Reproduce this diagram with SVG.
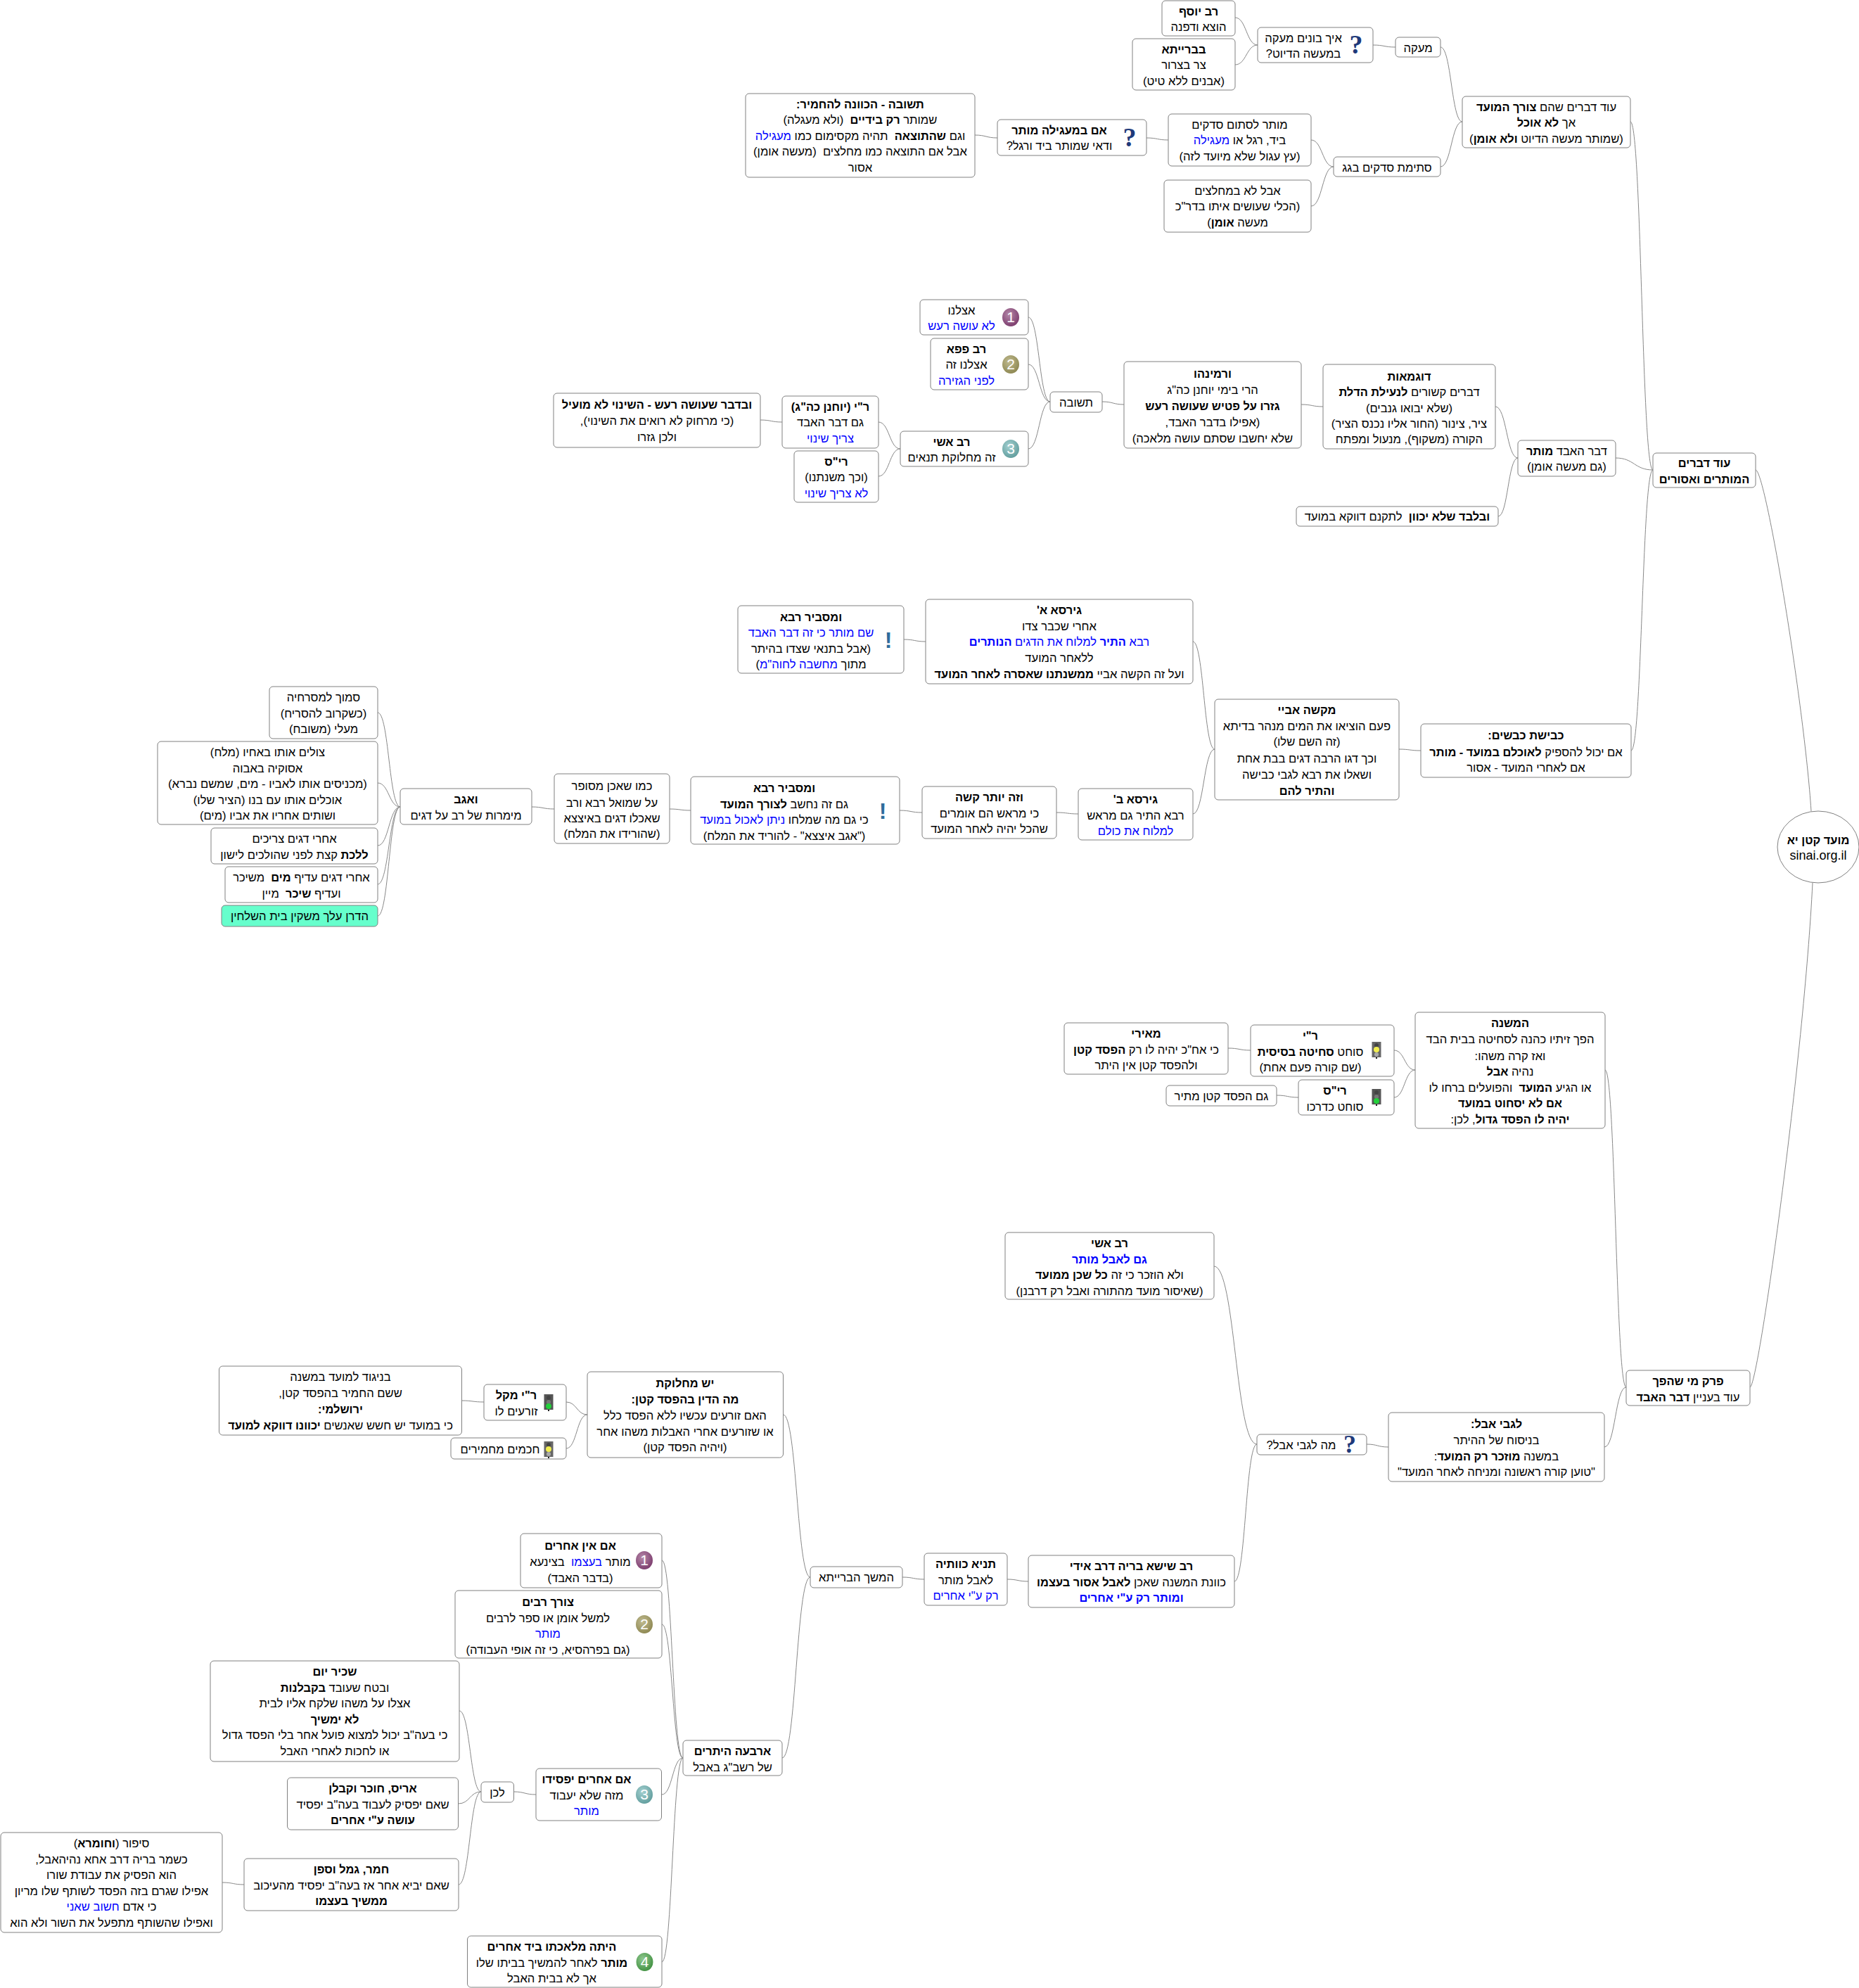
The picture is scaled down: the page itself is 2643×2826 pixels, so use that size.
<svg xmlns="http://www.w3.org/2000/svg" width="2643" height="2826" viewBox="0 0 2643 2826">
<style>
text{font-family:"Liberation Sans",Arial,sans-serif;font-size:16.6px;direction:rtl;text-anchor:middle;fill:#000}
.node rect,.node ellipse{fill:#fff;stroke:#808080;stroke-width:1}
.b{font-weight:bold;font-size:16.4px}
.u{fill:#0000ff}
#edges path{fill:none;stroke:#888;stroke-width:1}
text.q{font-family:"Liberation Serif",serif;font-weight:bold;font-size:38px;fill:#1f3a7a;direction:ltr}
text.x{font-family:"Liberation Sans",sans-serif;font-weight:bold;font-size:32px;fill:#2f6c9c;direction:ltr}
text.d{font-size:21px;fill:#fff;direction:ltr}
</style>
<defs>
<radialGradient id="b1" cx=".4" cy=".35" r=".7"><stop offset="0" stop-color="#b588a8"/><stop offset="1" stop-color="#7a3a6c"/></radialGradient>
<radialGradient id="b2" cx=".4" cy=".35" r=".7"><stop offset="0" stop-color="#c0bb90"/><stop offset="1" stop-color="#8c8650"/></radialGradient>
<radialGradient id="b3" cx=".4" cy=".35" r=".7"><stop offset="0" stop-color="#a4d0d0"/><stop offset="1" stop-color="#5f9c9c"/></radialGradient>
<radialGradient id="b4" cx=".4" cy=".35" r=".7"><stop offset="0" stop-color="#90c890"/><stop offset="1" stop-color="#3f8f3f"/></radialGradient>
<g id="tly"><rect x="-6.5" y="-12" width="13" height="22" fill="#666" stroke="none"/><rect x="-1" y="10" width="2" height="2" fill="#222" stroke="none"/><circle cy="-7" r="3" fill="#444"/><circle cy="-1" r="4" fill="#f2ee50"/><circle cy="6" r="3" fill="#aaa"/></g>
<g id="tlg"><rect x="-6.5" y="-12" width="13" height="22" fill="#555" stroke="none"/><rect x="-1" y="10" width="2" height="2" fill="#222" stroke="none"/><circle cy="-7" r="3" fill="#444"/><circle cy="-1" r="3" fill="#777"/><circle cy="5" r="4" fill="#22d03a"/></g>
</defs>
<g id="edges">
<path d="M2496 668C2510 668 2565 1000 2575 1153"/>
<path d="M2488 1972C2500 1972 2565 1500 2577 1255"/>
<path d="M2318 173C2334 173 2334 668 2350 668"/>
<path d="M2297 651C2323.5 651 2323.5 668 2350 668"/>
<path d="M2319 1067C2334.5 1067 2334.5 668 2350 668"/>
<path d="M2282 1521C2297 1521 2297 1972 2312 1972"/>
<path d="M2281 2057C2296.5 2057 2296.5 1972 2312 1972"/>
<path d="M1943 2053C1958.5 2053 1958.5 2057 1974 2057"/>
<path d="M1726 1800C1756.5 1800 1756.5 2053 1787 2053"/>
<path d="M1755 2248C1771 2248 1771 2053 1787 2053"/>
<path d="M1432 2245C1447 2245 1447 2248 1462 2248"/>
<path d="M1283 2242C1298.5 2242 1298.5 2245 1314 2245"/>
<path d="M1113.5 2011C1133 2011 1133 2242 1152 2242"/>
<path d="M1112 2499C1132 2499 1132 2242 1152 2242"/>
<path d="M805 1993C820 1993 820 2011 835 2011"/>
<path d="M805 2059C820 2059 820 2011 835 2011"/>
<path d="M656.5 1991C672 1991 672 1993 688 1993"/>
<path d="M941 2218C956 2218 956 2499 971 2499"/>
<path d="M941 2309C956 2309 956 2499 971 2499"/>
<path d="M941 2551C956 2551 956 2499 971 2499"/>
<path d="M941 2789C956 2789 956 2499 971 2499"/>
<path d="M730.5 2547C746 2547 746 2551 762 2551"/>
<path d="M653 2432C668.5 2432 668.5 2547 684 2547"/>
<path d="M651.5 2564C668 2564 668 2547 684 2547"/>
<path d="M652 2679C668 2679 668 2547 684 2547"/>
<path d="M316 2676C331.5 2676 331.5 2679 347 2679"/>
<path d="M1982 1493C1997 1493 1997 1521 2012 1521"/>
<path d="M1982 1560C1997 1560 1997 1521 2012 1521"/>
<path d="M1746 1490C1762 1490 1762 1493 1778 1493"/>
<path d="M1815 1557C1830.5 1557 1830.5 1560 1846 1560"/>
<path d="M2126 578C2142 578 2142 651 2158 651"/>
<path d="M2130 734C2144 734 2144 651 2158 651"/>
<path d="M1850 575C1865.5 575 1865.5 578 1881 578"/>
<path d="M1567 571C1582.5 571 1582.5 575 1598 575"/>
<path d="M1462 451C1477.5 451 1477.5 571 1493 571"/>
<path d="M1462 518C1477.5 518 1477.5 571 1493 571"/>
<path d="M1462 638C1477.5 638 1477.5 571 1493 571"/>
<path d="M1249 600C1264.5 600 1264.5 638 1280 638"/>
<path d="M1249 677C1264.5 677 1264.5 638 1280 638"/>
<path d="M1081 597C1096.5 597 1096.5 600 1112 600"/>
<path d="M1989 1065C2004.5 1065 2004.5 1067 2020 1067"/>
<path d="M1696 912C1711.5 912 1711.5 1065 1727 1065"/>
<path d="M1696 1157C1711.5 1157 1711.5 1065 1727 1065"/>
<path d="M1285 909C1300.5 909 1300.5 912 1316 912"/>
<path d="M1502 1155C1517.5 1155 1517.5 1157 1533 1157"/>
<path d="M1279 1152C1295 1152 1295 1155 1311 1155"/>
<path d="M952 1150C967 1150 967 1152 982 1152"/>
<path d="M756 1147C772 1147 772 1150 788 1150"/>
<path d="M537 1013C553 1013 553 1147 569 1147"/>
<path d="M537 1113C553 1113 553 1147 569 1147"/>
<path d="M537 1202C553 1202 553 1147 569 1147"/>
<path d="M537 1257C553 1257 553 1147 569 1147"/>
<path d="M537 1302C553 1302 553 1147 569 1147"/>
<path d="M2048 67C2063.5 67 2063.5 173 2079 173"/>
<path d="M2048 237C2063.5 237 2063.5 173 2079 173"/>
<path d="M1952 64C1968 64 1968 67 1984 67"/>
<path d="M1756 25C1772 25 1772 64 1788 64"/>
<path d="M1756 92C1772 92 1772 64 1788 64"/>
<path d="M1864 199C1880 199 1880 237 1896 237"/>
<path d="M1864 293C1880 293 1880 237 1896 237"/>
<path d="M1630 196C1645.5 196 1645.5 199 1661 199"/>
<path d="M1386 192C1402 192 1402 196 1418 196"/>
</g>

<g id="root" class="node"><ellipse cx="2585" cy="1204" rx="58" ry="51"/><text x="2585" y="1200" class="b">מועד קטן יא</text><text x="2585" y="1222" style="direction:ltr;font-size:18px">sinai.org.il</text></g>

<g id="n1" class="node" transform="translate(1652,1)"><rect width="104" height="50" rx="5"/><text x="52" y="20.5" class="b">רב יוסף</text><text x="52" y="43">הוצא ודפנה</text></g>
<g id="n2" class="node" transform="translate(1610,55)"><rect width="146" height="73" rx="5"/><text x="73" y="20.5" class="b">בברייתא</text><text x="73" y="43">צר בצרור</text><text x="73" y="65.5">(אבנים ללא טיט)</text></g>
<g id="n3" class="node" transform="translate(1788,39)"><rect width="164" height="50" rx="5"/><text x="65" y="20.5">איך בונים מעקה</text><text x="65" y="43">במעשה הדיוט?</text><text class="q" x="140" y="37">?</text></g>
<g id="n4" class="node" transform="translate(1984,53)"><rect width="64" height="28" rx="5"/><text x="32" y="20.5">מעקה</text></g>
<g id="n5" class="node" transform="translate(2079,137)"><rect width="239" height="73" rx="5"/><text x="119.5" y="20.5">עוד דברים שהם <tspan class="b">צורך המועד</tspan></text><text x="119.5" y="43">אך <tspan class="b">לא אוכל</tspan></text><text x="119.5" y="65.5">(שמותר מעשה הדיוט <tspan class="b">ולא אומן</tspan>)</text></g>
<g id="n6" class="node" transform="translate(1896,223)"><rect width="152" height="28" rx="5"/><text x="76" y="20.5">סתימת סדקים בגג</text></g>
<g id="n7" class="node" transform="translate(1661,162)"><rect width="203" height="74" rx="5"/><text x="101.5" y="20.5">מותר לסתום סדקים</text><text x="101.5" y="43">ביד, רגל או <tspan class="u">מעגילה</tspan></text><text x="101.5" y="65.5">(עץ עגול שלא מיועד לזה)</text></g>
<g id="n8" class="node" transform="translate(1655,256)"><rect width="209" height="74" rx="5"/><text x="104.5" y="20.5">אבל לא במחלצים</text><text x="104.5" y="43">(הכלי שעושים איתו בדר"כ</text><text x="104.5" y="65.5">מעשה <tspan class="b">אומן</tspan>)</text></g>
<g id="n9" class="node" transform="translate(1418,170)"><rect width="212" height="51" rx="5"/><text x="88" y="20.5" class="b">אם במעגילה מותר</text><text x="88" y="43">ודאי שמותר ביד ורגל?</text><text class="q" x="188" y="38">?</text></g>
<g id="n10" class="node" transform="translate(1060,133)"><rect width="326" height="119" rx="5"/><text x="163" y="20.5" class="b">תשובה - הכוונה להחמיר:</text><text x="163" y="43">שמותר <tspan class="b">רק בידיים</tspan> &#160;(ולא מעגלה)</text><text x="163" y="65.5">וגם <tspan class="b">שהתוצאה</tspan> &#160;תהיה מקסימום כמו <tspan class="u">מעגילה</tspan></text><text x="163" y="88">אבל אם התוצאה כמו מחלצים &#160;(מעשה אומן)</text><text x="163" y="110.5">אסור</text></g>

<g id="n11" class="node" transform="translate(1308,426)"><rect width="154" height="50" rx="5"/><text x="59" y="20.5">אצלנו</text><text x="59" y="43" class="u">לא עושה רעש</text><ellipse cx="129" cy="25" rx="12" ry="13" style="fill:url(#b1);stroke:none"/><text class="d" x="129" y="32">1</text></g>
<g id="n12" class="node" transform="translate(1323,481)"><rect width="139" height="73" rx="5"/><text x="51" y="20.5" class="b">רב פפא</text><text x="51" y="43">אצלנו זה</text><text x="51" y="65.5" class="u">לפני הגזירה</text><ellipse cx="114" cy="37" rx="12" ry="13" style="fill:url(#b2);stroke:none"/><text class="d" x="114" y="44">2</text></g>
<g id="n13" class="node" transform="translate(1280,613)"><rect width="182" height="50" rx="5"/><text x="73" y="20.5" class="b">רב אשי</text><text x="73" y="43">זה מחלוקת תנאים</text><ellipse cx="157" cy="25" rx="12" ry="13" style="fill:url(#b3);stroke:none"/><text class="d" x="157" y="32">3</text></g>
<g id="n14" class="node" transform="translate(1112,563)"><rect width="137" height="74" rx="5"/><text x="68.5" y="20.5" class="b">ר"י (יוחנן כה"ג)</text><text x="68.5" y="43">גם דבר האבד</text><text x="68.5" y="65.5" class="u">צריך שינוי</text></g>
<g id="n15" class="node" transform="translate(1129,641)"><rect width="120" height="73" rx="5"/><text x="60" y="20.5" class="b">רי"ס</text><text x="60" y="43">(וכך משנתנו)</text><text x="60" y="65.5" class="u">לא צריך שינוי</text></g>
<g id="n16" class="node" transform="translate(787,559)"><rect width="294" height="77" rx="5"/><text x="147" y="22" class="b">ובדבר שעושה רעש - השינוי לא מועיל</text><text x="147" y="45">(כי מרחוק לא רואים את השינוי),</text><text x="147" y="68">ולכן גזרו</text></g>
<g id="n17" class="node" transform="translate(1493,557)"><rect width="74" height="29" rx="5"/><text x="37" y="20.5">תשובה</text></g>
<g id="n18" class="node" transform="translate(1598,514)"><rect width="252" height="123" rx="5"/><text x="126" y="23" class="b">ורמינהו</text><text x="126" y="46">הרי בימי יוחנן כה"ג</text><text x="126" y="69" class="b">גזרו על פטיש שעושה רעש</text><text x="126" y="92">(אפילו בדבר האבד,</text><text x="126" y="115">שלא יחשבו שסתם עושה מלאכה)</text></g>
<g id="n19" class="node" transform="translate(1881,518)"><rect width="245" height="120" rx="5"/><text x="122.5" y="23" class="b">דוגמאות</text><text x="122.5" y="45">דברים קשורים <tspan class="b">לנעילת הדלת</tspan></text><text x="122.5" y="68">(שלא יבואו גנבים)</text><text x="122.5" y="90">ציר, צינור (החור אליו נכנס הציר)</text><text x="122.5" y="112">הקורה (משקוף), מנעול ומפתח</text></g>
<g id="n20" class="node" transform="translate(2158,626)"><rect width="139" height="51" rx="5"/><text x="69.5" y="20.5">דבר האבד <tspan class="b">מותר</tspan></text><text x="69.5" y="43">(גם מעשה אומן)</text></g>
<g id="n21" class="node" transform="translate(1843,720)"><rect width="287" height="28" rx="5"/><text x="143.5" y="20"><tspan class="b">ובלבד שלא יכוון</tspan> &#160;לתקנם דווקא במועד</text></g>
<g id="n22" class="node" transform="translate(2350,644)"><rect width="146" height="49" rx="5"/><text x="73" y="20" class="b">עוד דברים</text><text x="73" y="43" class="b">המותרים ואסורים</text></g>
<g id="n23" class="node" transform="translate(2020,1029)"><rect width="299" height="76" rx="5"/><text x="149.5" y="22" class="b">כבישת כבשים:</text><text x="149.5" y="46">אם יכול להספיק <tspan class="b">לאוכלם במועד - מותר</tspan></text><text x="149.5" y="68">אם לאחרי המועד - אסור</text></g>
<g id="n24" class="node" transform="translate(1727,994)"><rect width="262" height="143" rx="5"/><text x="131" y="21" class="b">מקשה אביי</text><text x="131" y="44">פעם הוציאו את המים מנהר בדיתא</text><text x="131" y="66">(זה השם שלו)</text><text x="131" y="90">וכך דגו הרבה דגים בבת אחת</text><text x="131" y="113">ושאלו את רבא לגבי כבישה</text><text x="131" y="136" class="b">והתיר להם</text></g>
<g id="n25" class="node" transform="translate(1316,852)"><rect width="380" height="120" rx="5"/><text x="190" y="21" class="b">גירסא א'</text><text x="190" y="44">אחרי שכבר צדו</text><text x="190" y="65.5" class="u">רבא <tspan class="b u">התיר</tspan> למלוח את הדגים <tspan class="b u">הנותרים</tspan></text><text x="190" y="89">ללאחר המועד</text><text x="190" y="112">ועל זה הקשה אביי <tspan class="b">ממשנתנו שאסרה לאחר המועד</tspan></text></g>
<g id="n26" class="node" transform="translate(1049,861)"><rect width="236" height="96" rx="5"/><text x="104" y="21.5" class="b">ומסביר רבא</text><text x="104" y="44" class="u">שם מותר כי זה דבר האבד</text><text x="104" y="66.5">(אבל בתנאי שצדו בהיתר</text><text x="104" y="89">מתוך <tspan class="u">מחשבה לחוה"מ</tspan>)</text><text class="x" x="214" y="60">!</text></g>
<g id="n27" class="node" transform="translate(1533,1121)"><rect width="163" height="73" rx="5"/><text x="81.5" y="21" class="b">גירסא ב'</text><text x="81.5" y="44">רבא התיר גם מראש</text><text x="81.5" y="66" class="u">למלוח את כולם</text></g>
<g id="n28" class="node" transform="translate(1311,1118)"><rect width="191" height="74" rx="5"/><text x="95.5" y="21" class="b">וזה יותר קשה</text><text x="95.5" y="44">כי מראש הם אומרים</text><text x="95.5" y="66">שהכל יהיה לאחר המועד</text></g>
<g id="n29" class="node" transform="translate(982,1104)"><rect width="297" height="96" rx="5"/><text x="133" y="22" class="b">ומסביר רבא</text><text x="133" y="45">גם זה נחשב <tspan class="b">לצורך המועד</tspan></text><text x="133" y="67">כי גם מה שמלחו <tspan class="u">ניתן לאכול במועד</tspan></text><text x="133" y="90">("אגב איצצא" - להוריד את המלח)</text><text class="x" x="273" y="60">!</text></g>
<g id="n30" class="node" transform="translate(788,1100)"><rect width="164" height="99" rx="5"/><text x="82" y="23">כמו שאכן מסופר</text><text x="82" y="47">על שמואל רבא ורב</text><text x="82" y="69">שאכלו דגים באיצצא</text><text x="82" y="91">(שהורידו את המלח)</text></g>
<g id="n31" class="node" transform="translate(569,1121)"><rect width="187" height="51" rx="5"/><text x="93.5" y="21" class="b">ואגב</text><text x="93.5" y="44">מימרות של רב על דגים</text></g>
<g id="n32" class="node" transform="translate(383,976)"><rect width="154" height="74" rx="5"/><text x="77" y="21">סמוך למסרחיה</text><text x="77" y="44">(כשקרוב להסריח)</text><text x="77" y="66">מעלי (משובח)</text></g>
<g id="n33" class="node" transform="translate(224,1054)"><rect width="313" height="118" rx="5"/><text x="156.5" y="21">צולים אותו באחיו (מלח)</text><text x="156.5" y="44">אסוקיה באבוה</text><text x="156.5" y="66">(מכניסים אותו לאביו - מים, שמשם נברא)</text><text x="156.5" y="89">אוכלים אותו עם בנו (הציר שלו)</text><text x="156.5" y="111">ושותים אחריו את אביו (מים)</text></g>
<g id="n34" class="node" transform="translate(300,1177)"><rect width="237" height="51" rx="5"/><text x="118.5" y="21">אחרי דגים צריכים</text><text x="118.5" y="44"><tspan class="b">ללכת</tspan> קצת לפני שהולכים לישון</text></g>
<g id="n35" class="node" transform="translate(320,1232)"><rect width="217" height="51" rx="5"/><text x="108.5" y="21">אחרי דגים עדיף <tspan class="b">מים</tspan> &#160;משיכר</text><text x="108.5" y="44">ועדיף <tspan class="b">שיכר</tspan> &#160;מיין</text></g>
<g id="n36" class="node" transform="translate(315,1287)"><rect width="222" height="30" rx="5" style="fill:#66ffcc"/><text x="111" y="21">הדרן עלך משקין בית השלחין</text></g>

<g id="n37" class="node" transform="translate(2012,1439)"><rect width="270" height="165" rx="5"/><text x="135" y="21" class="b">המשנה</text><text x="135" y="44">הפך זיתיו כהנה לסחיטה בבית הבד</text><text x="135" y="68">ואז קרה משהו:</text><text x="135" y="90">נהיה <tspan class="b">אבל</tspan></text><text x="135" y="113">או הגיע <tspan class="b">המועד</tspan> &#160;והפועלים ברחו לו</text><text x="135" y="135" class="b">אם לא יסחוט במועד</text><text x="135" y="158"><tspan class="b">יהיה לו הפסד גדול</tspan>, לכן:</text></g>
<g id="n38" class="node" transform="translate(1778,1457)"><rect width="204" height="73" rx="5"/><text x="85" y="21" class="b">ר"י</text><text x="85" y="44">סוחט <tspan class="b">סחיטה בסיסית</tspan></text><text x="85" y="66">(שם קורה פעם אחת)</text><use href="#tly" x="179" y="36"/></g>
<g id="n39" class="node" transform="translate(1846,1535)"><rect width="136" height="50" rx="5"/><text x="52" y="21" class="b">רי"ס</text><text x="52" y="44">סוחט כדרכו</text><use href="#tlg" x="111" y="25"/></g>
<g id="n40" class="node" transform="translate(1513,1454)"><rect width="233" height="73" rx="5"/><text x="116.5" y="21" class="b">מאירי</text><text x="116.5" y="44">כי אח"כ יהיה לו רק <tspan class="b">הפסד קטן</tspan></text><text x="116.5" y="66">ולהפסד קטן אין היתר</text></g>
<g id="n41" class="node" transform="translate(1658,1543)"><rect width="157" height="29" rx="5"/><text x="78.5" y="21">גם הפסד קטן מתיר</text></g>
<g id="n42" class="node" transform="translate(1429,1752)"><rect width="297" height="95" rx="5"/><text x="148.5" y="21" class="b">רב אשי</text><text x="148.5" y="44" class="b u">גם לאבל מותר</text><text x="148.5" y="66">ולא הוזכר כי זה <tspan class="b">כל שכן ממועד</tspan></text><text x="148.5" y="89">(שאיסור מועד מהתורה ואבל רק דרבנן)</text></g>
<g id="n43" class="node" transform="translate(1787,2039)"><rect width="156" height="29" rx="5"/><text x="63" y="21">מה לגבי אבל?</text><text class="q" x="132" y="26" style="font-size:36px">?</text></g>
<g id="n44" class="node" transform="translate(1974,2008)"><rect width="307" height="98" rx="5"/><text x="153.5" y="22" class="b">לגבי אבל:</text><text x="153.5" y="45">בניסוח של ההיתר</text><text x="153.5" y="68">במשנה <tspan class="b">מוזכר רק המועד</tspan>:</text><text x="153.5" y="90">"טוען קורה ראשונה ומניחה לאחר המועד"</text></g>
<g id="n45" class="node" transform="translate(2312,1948)"><rect width="176" height="50" rx="5"/><text x="88" y="21" class="b">פרק מי שהפך</text><text x="88" y="44">עוד בעניין <tspan class="b">דבר האבד</tspan></text></g>
<g id="n46" class="node" transform="translate(1462,2211)"><rect width="293" height="74" rx="5"/><text x="146.5" y="21" class="b">רב שישא בריה דרב אידי</text><text x="146.5" y="44">כוונת המשנה שאכן <tspan class="b">לאבל אסור בעצמו</tspan></text><text x="146.5" y="66" class="b u">ומותר רק ע"י אחרים</text></g>
<g id="n47" class="node" transform="translate(1314,2208)"><rect width="118" height="74" rx="5"/><text x="59" y="21" class="b">תניא כוותיה</text><text x="59" y="44">לאבל מותר</text><text x="59" y="66" class="u">רק ע"י אחרים</text></g>
<g id="n48" class="node" transform="translate(1152,2227)"><rect width="131" height="30" rx="5"/><text x="65.5" y="21">המשך הברייתא</text></g>
<g id="n49" class="node" transform="translate(835,1950)"><rect width="278.5" height="122" rx="5"/><text x="139" y="22" class="b">יש מחלוקת</text><text x="139" y="45" class="b">מה הדין בהפסד קטן:</text><text x="139" y="68">האם זורעים עכשיו ללא הפסד כלל</text><text x="139" y="91">או שזורעים אחרי האבלות משהו אחר</text><text x="139" y="113">(ויהיה הפסד קטן)</text></g>
<g id="n50" class="node" transform="translate(688,1968)"><rect width="117" height="51" rx="5"/><text x="46" y="21" class="b">ר"י מקל</text><text x="46" y="44">זורעים לו</text><use href="#tlg" x="92" y="26"/></g>
<g id="n51" class="node" transform="translate(641,2044)"><rect width="164" height="30" rx="5"/><text x="70" y="22">חכמים מחמירים</text><use href="#tly" x="139" y="17"/></g>
<g id="n52" class="node" transform="translate(311.5,1942)"><rect width="345" height="98" rx="5"/><text x="172.5" y="21">בניגוד למועד במשנה</text><text x="172.5" y="44">ששם החמיר בהפסד קטן,</text><text x="172.5" y="67" class="b">ירושלמי:</text><text x="172.5" y="90">כי במועד יש חשש שאנשים <tspan class="b">יכוונו דווקא למועד</tspan></text></g>
<g id="n53" class="node" transform="translate(971,2474)"><rect width="141" height="50" rx="5"/><text x="70.5" y="21" class="b">ארבעה היתרים</text><text x="70.5" y="44">של רשב"ג באבל</text></g>
<g id="n54" class="node" transform="translate(740,2180)"><rect width="201" height="77" rx="5"/><text x="85" y="23" class="b">אם אין אחרים</text><text x="85" y="46">מותר <tspan class="u">בעצמו</tspan> &#160;בצינעא</text><text x="85" y="69">(בדבר האבד)</text><ellipse cx="176" cy="38" rx="12" ry="13" style="fill:url(#b1);stroke:none"/><text class="d" x="176" y="45">1</text></g>
<g id="n55" class="node" transform="translate(647,2261)"><rect width="294" height="96" rx="5"/><text x="132" y="22" class="b">צורך רבים</text><text x="132" y="45">למשל אומן או ספר לרבים</text><text x="132" y="67" class="u">מותר</text><text x="132" y="90">(גם בפרהסיא, כי זה אופי העבודה)</text><ellipse cx="269" cy="48" rx="12" ry="13" style="fill:url(#b2);stroke:none"/><text class="d" x="269" y="55">2</text></g>
<g id="n56" class="node" transform="translate(762,2514)"><rect width="178.5" height="74" rx="5"/><text x="72" y="21" class="b">אם אחרים יפסידו</text><text x="72" y="44">מזה שלא יעבוד</text><text x="72" y="66" class="u">מותר</text><ellipse cx="154" cy="37" rx="12" ry="13" style="fill:url(#b3);stroke:none"/><text class="d" x="154" y="44">3</text></g>
<g id="n57" class="node" transform="translate(684,2533)"><rect width="46.5" height="29" rx="5"/><text x="23" y="21">לכן</text></g>
<g id="n58" class="node" transform="translate(299,2361)"><rect width="354" height="143" rx="5"/><text x="177" y="21" class="b">שכיר יום</text><text x="177" y="44">ובטח שעובד <tspan class="b">בקבלנות</tspan></text><text x="177" y="66">אצלו על משהו שלקח אליו לבית</text><text x="177" y="89" class="b">לא ימשיך</text><text x="177" y="111">כי בעה"ב יכול למצוא פועל אחר בלי הפסד גדול</text><text x="177" y="134">או לחכות לאחרי האבל</text></g>
<g id="n59" class="node" transform="translate(408.5,2527)"><rect width="243" height="74" rx="5"/><text x="121.5" y="21" class="b">אריס, חוכר וקבלן</text><text x="121.5" y="44">שאם יפסיק לעבוד בעה"ב יפסיד</text><text x="121.5" y="66" class="b">עושה ע"י אחרים</text></g>
<g id="n60" class="node" transform="translate(347,2642)"><rect width="305" height="74" rx="5"/><text x="152.5" y="21" class="b">חמר, גמל וספן</text><text x="152.5" y="44">שאם יביא אחר אז בעה"ב יפסיד מהעיכוב</text><text x="152.5" y="66" class="b">ממשיך בעצמו</text></g>
<g id="n61" class="node" transform="translate(1,2605)"><rect width="315" height="142" rx="5"/><text x="157.5" y="21">סיפור (<tspan class="b">וחומרא</tspan>)</text><text x="157.5" y="44">כשמר בריה דרב אחא נהיהאבל,</text><text x="157.5" y="66">הוא הפסיק את עבודת שורו</text><text x="157.5" y="89">אפילו שגרם בזה הפסד לשותף שלו מריון</text><text x="157.5" y="111">כי אדם <tspan class="u">חשוב שאני</tspan></text><text x="157.5" y="134">ואפילו שהשותף מתפעל את השור ולא הוא</text></g>
<g id="n62" class="node" transform="translate(664.5,2752)"><rect width="276.5" height="73" rx="5"/><text x="120" y="21" class="b">היתה מלאכתו ביד אחרים</text><text x="120" y="44"><tspan class="b">מותר</tspan> לאחר להמשיך בביתו שלו</text><text x="120" y="66">אך לא בבית האבל</text><ellipse cx="252" cy="37" rx="12" ry="13" style="fill:url(#b4);stroke:none"/><text class="d" x="252" y="44">4</text></g>
</svg>
